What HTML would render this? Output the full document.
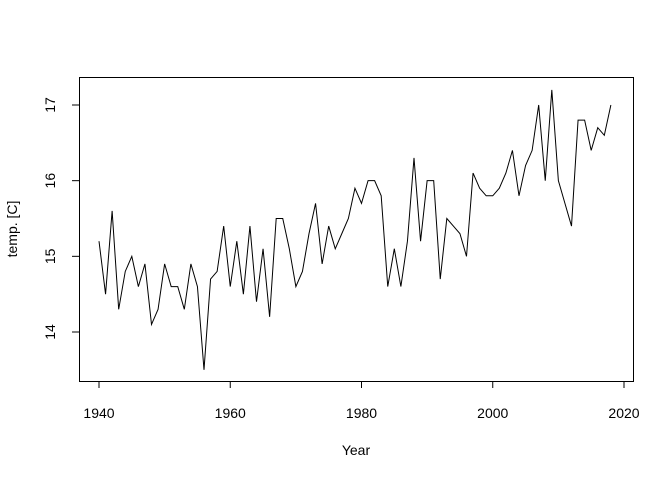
<!DOCTYPE html>
<html><head><style>body{margin:0;background:#fff}svg{display:block}text{font-family:"Liberation Sans",sans-serif;font-size:14px;fill:#000}</style></head>
<body>
<svg width="672" height="480" viewBox="0 0 672 480">
<rect x="79.5" y="77.5" width="554" height="304" fill="none" stroke="#000" stroke-width="1"/>
<g stroke="#000" stroke-width="1">
<line x1="99" y1="381.5" x2="624" y2="381.5"/>
<line x1="99" y1="381" x2="99" y2="388"/><line x1="230.25" y1="381" x2="230.25" y2="388"/><line x1="361.5" y1="381" x2="361.5" y2="388"/><line x1="492.75" y1="381" x2="492.75" y2="388"/><line x1="624" y1="381" x2="624" y2="388"/>
<line x1="79.5" y1="105" x2="79.5" y2="332"/>
<line x1="72" y1="105" x2="79" y2="105"/><line x1="72" y1="180.67" x2="79" y2="180.67"/><line x1="72" y1="256.33" x2="79" y2="256.33"/><line x1="72" y1="332" x2="79" y2="332"/>
</g>
<g text-anchor="middle">
<text x="99" y="418">1940</text><text x="230.25" y="418">1960</text><text x="361.5" y="418">1980</text><text x="492.75" y="418">2000</text><text x="624" y="418">2020</text>
<text x="356" y="455">Year</text>
<text transform="translate(55,105) rotate(-90)">17</text>
<text transform="translate(55,180.67) rotate(-90)">16</text>
<text transform="translate(55,256.33) rotate(-90)">15</text>
<text transform="translate(55,332) rotate(-90)">14</text>
<text transform="translate(17,229) rotate(-90)">temp. [C]</text>
</g>
<g transform="matrix(6.5625 0 0 -75.667 -12632.25 1391.34)">
<polyline fill="none" stroke="#000" stroke-width="1" vector-effect="non-scaling-stroke" points="1940,15.2 1941,14.5 1942,15.6 1943,14.3 1944,14.8 1945,15.0 1946,14.6 1947,14.9 1948,14.1 1949,14.3 1950,14.9 1951,14.6 1952,14.6 1953,14.3 1954,14.9 1955,14.6 1956,13.5 1957,14.7 1958,14.8 1959,15.4 1960,14.6 1961,15.2 1962,14.5 1963,15.4 1964,14.4 1965,15.1 1966,14.2 1967,15.5 1968,15.5 1969,15.1 1970,14.6 1971,14.8 1972,15.3 1973,15.7 1974,14.9 1975,15.4 1976,15.1 1977,15.3 1978,15.5 1979,15.9 1980,15.7 1981,16.0 1982,16.0 1983,15.8 1984,14.6 1985,15.1 1986,14.6 1987,15.2 1988,16.3 1989,15.2 1990,16.0 1991,16.0 1992,14.7 1993,15.5 1994,15.4 1995,15.3 1996,15.0 1997,16.1 1998,15.9 1999,15.8 2000,15.8 2001,15.9 2002,16.1 2003,16.4 2004,15.8 2005,16.2 2006,16.4 2007,17.0 2008,16.0 2009,17.2 2010,16.0 2011,15.7 2012,15.4 2013,16.8 2014,16.8 2015,16.4 2016,16.7 2017,16.6 2018,17.0"/>
</g>
</svg>
</body></html>
